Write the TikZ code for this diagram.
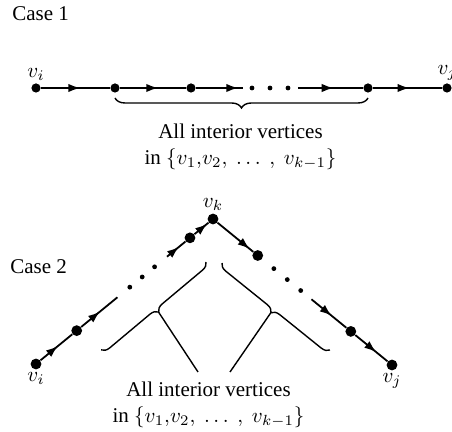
\RequirePackage{fix-cm}
\documentclass[tikz,border=0pt]{standalone}
\usepackage{fontspec}
\setmainfont{Liberation Serif}
\usetikzlibrary{arrows.meta,calc,decorations.markings,decorations.pathreplacing}
\tikzset{
  % vertex dot (case 1 and case 2)
  vtx/.style={circle,fill=black,inner sep=0pt,minimum size=4.6pt},
  bigvtx/.style={vtx,minimum size=5.4pt},
  % dots of the ellipsis
  gapdot/.style={circle,fill=black,inner sep=0pt,minimum size=2.4pt},
  % edges, arrow tip placed along the edge
  edg/.style={line width=0.9pt},
  arrat/.style={postaction={decorate},decoration={markings,
      mark=at position #1 with {\arrow{Latex[length=6pt,width=4.2pt]}}}},
  arrat/.default=0.55,
  % braces
  brc/.style={decorate,decoration={brace,amplitude=#1},line width=0.7pt},
  brc/.default=5pt,
  stem/.style={line width=0.7pt},
  % texts
  lbl/.style={inner sep=1pt,font=\fontsize{10.5}{13}\selectfont},
  txt/.style={align=center,inner sep=0pt,font=\fontsize{10.5}{13}\selectfont},
}
\begin{document}
\begin{tikzpicture}[x=0.5pt,y=-0.5pt]
  \useasboundingbox (0,0) rectangle (452,432);

  % ---- Case 1 ----
  \node[txt,anchor=base west] (case1) at (12,21) {Case 1};
  \node[vtx,label={[lbl]above:$v_i$}] (ci) at (36,88) {};
  \node[vtx] (c1) at (115,88) {};
  \node[vtx] (c2) at (191,88) {};
  \coordinate (cd1) at (243,88);
  \foreach \x [count=\n] in {252,270,288}
    \node[gapdot] (cg\n) at (\x,88) {};
  \coordinate (cd2) at (298,88);
  \node[vtx] (c3) at (368,88) {};
  \node[vtx,label={[lbl]above:$v_j$}] (cj) at (447,88) {};

  \draw[edg,arrat=0.57] (ci) -- (c1);
  \draw[edg,arrat=0.58] (c1) -- (c2);
  \draw[edg,arrat=0.9] (c2) -- (cd1);
  \draw[edg,arrat=0.55] (cd2) -- (c3);
  \draw[edg,arrat=0.53] (c3) -- (cj);

  \draw[brc] (368,98) -- (115,98);
  \node[txt] (txt1) at (240.5,147)
    {All interior vertices\\in $\{v_1{,}v_2,\ \ldots\ ,\ v_{k-1}\}$};

  % ---- Case 2 ----
  \node[txt,anchor=base west] (case2) at (10,274) {Case 2};
  \node[bigvtx,label={[lbl]below:$v_i$}] (vi) at (36,364) {};
  \node[bigvtx,label={[lbl]above:$v_k$}] (vk) at (213,219) {};
  \node[bigvtx,label={[lbl]below:$v_j$}] (vj) at (392,365) {};

  % left chain
  \node[bigvtx] (p1) at ($(vi)!0.23!(vk)$) {};
  \coordinate (pl1) at ($(vi)!0.46!(vk)$);
  \foreach \t [count=\n] in {0.53,0.60,0.67}
    \node[gapdot] (pg\n) at ($(vi)!\t!(vk)$) {};
  \coordinate (pl2) at ($(vi)!0.74!(vk)$);
  \node[bigvtx] (p2) at ($(vi)!0.87!(vk)$) {};

  \draw[edg,arrat=0.55] (vi) -- (p1);
  \draw[edg,arrat=0.52] (p1) -- (pl1);
  \draw[edg,arrat=0.65] (pl2) -- (p2);
  \draw[edg,arrat=0.9] (p2) -- (vk);

  % right chain
  \node[bigvtx] (q1) at ($(vk)!0.25!(vj)$) {};
  \foreach \t [count=\n] in {0.34,0.415,0.49}
    \node[gapdot] (qg\n) at ($(vk)!\t!(vj)$) {};
  \coordinate (ql2) at ($(vk)!0.55!(vj)$);
  \node[bigvtx] (q2) at ($(vk)!0.77!(vj)$) {};

  \draw[edg,arrat=0.9] (vk) -- (q1);
  \draw[edg,arrat=0.58] (ql2) -- (q2);
  \draw[edg,arrat=0.65] (q2) -- (vj);

  % braces under both chains
  \draw[brc=4pt] (206,262) -- (101,350);
  \draw[brc=4pt] (330,350) -- (222,263);
  \coordinate (lt) at (158.5,312);
  \coordinate (rt) at (271,312.5);
  \coordinate (ls) at (198,372);
  \coordinate (rs) at (230,372);
  \draw[stem] (lt) -- (ls);
  \draw[stem] (rt) -- (rs);

  \node[txt] (txt2) at (208.5,405)
    {All interior vertices\\in $\{v_1{,}v_2,\ \ldots\ ,\ v_{k-1}\}$};
\end{tikzpicture}
\end{document}
